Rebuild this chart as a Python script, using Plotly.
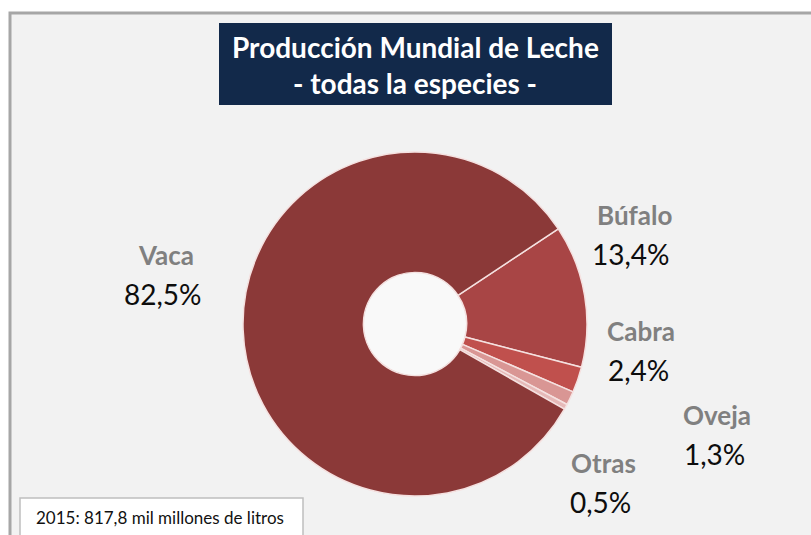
import plotly.graph_objects as go

W, H = 811, 535

especies = ["Búfalo", "Cabra", "Oveja", "Otras", "Vaca"]
porcentajes = [13.4, 2.4, 1.3, 0.5, 82.5]
etiquetas_pct = ["13,4%", "2,4%", "1,3%", "0,5%", "82,5%"]
colores = ["#A84545", "#C0504D", "#D99694", "#E6B9B8", "#8B3938"]

titulo_1 = "Producción Mundial de Leche"
titulo_2 = "- todas la especies -"
nota = "2015: 817,8 mil millones de litros"

# label anchor positions in pixels (name, percent below it)
pos_etiquetas = {
    "Búfalo": (634, 215),
    "Cabra": (641, 331),
    "Oveja": (717, 415),
    "Otras": (603, 463),
    "Vaca": (166, 255),
}


def px_x(x):
    return x / W


def px_y(y):
    return 1 - y / H


fig = go.Figure()

fig.add_trace(go.Pie(
    labels=especies,
    values=porcentajes,
    sort=False,
    direction="clockwise",
    rotation=56.4,
    hole=0.30,
    marker=dict(colors=colores, line=dict(color="#F5E1E0", width=1.5)),
    textinfo="none",
    hoverinfo="label+percent",
    showlegend=False,
    domain=dict(x=[px_x(243), px_x(587)], y=[px_y(496), px_y(152)]),
))

shapes = [
    # grey chart area with frame
    dict(type="rect", xref="paper", yref="paper",
         x0=px_x(10), x1=1.02, y0=-0.05, y1=px_y(13),
         fillcolor="#F2F2F2", line=dict(color="#A6A6A6", width=3),
         layer="below"),
    # lighter hole of the donut
    dict(type="circle", xref="paper", yref="paper",
         x0=px_x(364), x1=px_x(466), y0=px_y(375), y1=px_y(273),
         fillcolor="#F9F9F9", line=dict(width=0), layer="below"),
    # title box
    dict(type="rect", xref="paper", yref="paper",
         x0=px_x(219), x1=px_x(612), y0=px_y(105), y1=px_y(23),
         fillcolor="#12294A", line=dict(width=0), layer="below"),
    # note box
    dict(type="rect", xref="paper", yref="paper",
         x0=px_x(20), x1=px_x(303), y0=-0.05, y1=px_y(498),
         fillcolor="#FFFFFF", line=dict(color="#BFBFBF", width=1.5),
         layer="below"),
]

annotations = [
    dict(text="<b>%s</b>" % titulo_1, x=px_x(415), y=px_y(47),
         font=dict(size=28, color="white")),
    dict(text="<b>%s</b>" % titulo_2, x=px_x(415), y=px_y(83),
         font=dict(size=28, color="white")),
    dict(text=nota, x=px_x(34), y=px_y(517), xanchor="left",
         font=dict(size=17, color="#111111")),
]

for nombre, pct in zip(especies, etiquetas_pct):
    x, y = pos_etiquetas[nombre]
    annotations.append(dict(text="<b>%s</b>" % nombre, x=px_x(x), y=px_y(y),
                            font=dict(size=26, color="#808080")))
    annotations.append(dict(text=pct, x=px_x(x - 3), y=px_y(y + 39),
                            font=dict(size=28, color="#0D0D0D")))

for a in annotations:
    a.update(xref="paper", yref="paper", showarrow=False)
    a.setdefault("xanchor", "center")
    a["yanchor"] = "middle"

fig.update_layout(
    width=W,
    height=H,
    margin=dict(l=0, r=0, t=0, b=0),
    paper_bgcolor="white",
    font=dict(family="Lato, 'Open Sans', sans-serif"),
    shapes=shapes,
    annotations=annotations,
)

fig.write_html("out.html", config={"displayModeBar": False},
               post_script="document.body.style.margin = '0';")
